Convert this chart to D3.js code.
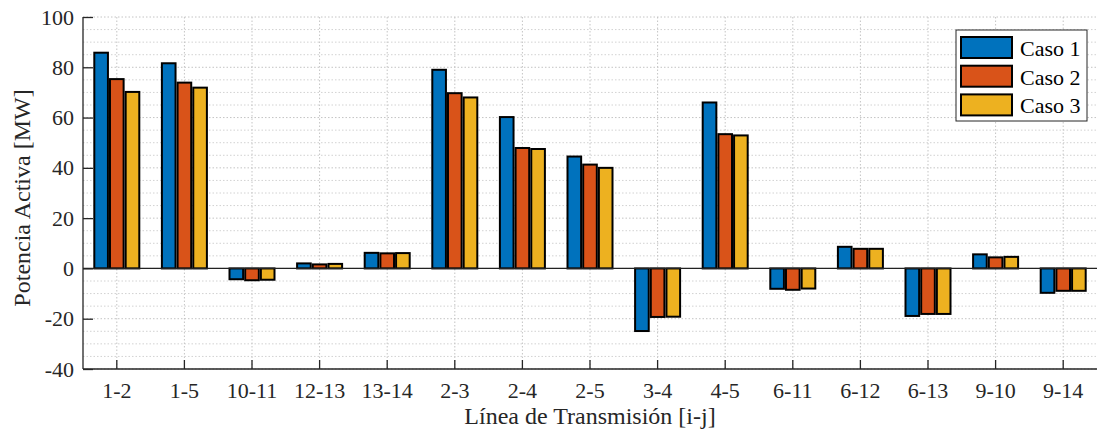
<!DOCTYPE html>
<html>
<head>
<meta charset="utf-8">
<script src="https://d3js.org/d3.v7.min.js"></script>
<style>
  body { margin: 0; background: #fff; }
  svg { display: block; font-family: "Liberation Serif", "Times New Roman", serif; }
</style>
</head>
<body>
<div id="chart"></div>
<script>
// data
var lines = ["1-2", "1-5", "10-11", "12-13", "13-14", "2-3", "2-4", "2-5", "3-4", "4-5", "6-11", "6-12", "6-13", "9-10", "9-14"];
var series = ["Caso 1", "Caso 2", "Caso 3"];
var caso1 = [85.8, 81.6, -4.3, 2.0, 6.2, 79.0, 60.2, 44.5, -24.9, 66.0, -8.1, 8.6, -18.9, 5.6, -9.7];
var caso2 = [75.3, 73.9, -4.7, 1.6, 6.0, 69.7, 47.9, 41.3, -19.3, 53.4, -8.5, 7.8, -18.1, 4.4, -8.9];
var caso3 = [70.2, 71.9, -4.5, 1.8, 6.1, 68.0, 47.5, 40.0, -19.2, 52.9, -8.0, 7.8, -18.1, 4.6, -8.9];
var yTicks = [-40, -20, 0, 20, 40, 60, 80, 100];
var colors = ["#0072BD", "#D95319", "#EDB120"];

var svg_width = 1098, svg_height = 436;
var margin = { top: 17, right: 1, bottom: 67, left: 83 };
var width = svg_width - margin.left - margin.right;
var height = svg_height - margin.top - margin.bottom;

var svg = d3.select("#chart").append("svg")
    .attr("width", svg_width)
    .attr("height", svg_height);
var g = svg.append("g").attr("transform", `translate(${margin.left},${margin.top})`);

var x_scale = d3.scaleBand().domain(lines).range([0, width]).padding(0);
var y_scale = d3.scaleLinear().domain([-40, 100]).range([height, 0]);
var inner = d3.scaleBand().domain(series).range([-22.5, 22.5]).paddingInner(0.13);

function cx(c) { return x_scale(c) + x_scale.bandwidth() / 2; }

// minor grid every 5, major every 20
var minor = d3.range(-40, 101, 5);
g.selectAll(".ygrid").data(minor).enter().append("line")
  .attr("x1", 0).attr("x2", width)
  .attr("y1", d => y_scale(d)).attr("y2", d => y_scale(d))
  .attr("stroke", d => d % 20 === 0 ? "#c4c4c4" : "#d2d2d2")
  .attr("stroke-width", 1)
  .attr("stroke-dasharray", "1.5,2");
g.selectAll(".xgrid").data(lines).enter().append("line")
  .attr("x1", d => cx(d)).attr("x2", d => cx(d))
  .attr("y1", 0).attr("y2", height)
  .attr("stroke", "#c4c4c4")
  .attr("stroke-dasharray", "1.5,2");

// bars
var allData = [caso1, caso2, caso3];
var bars = [];
lines.forEach(function(c, i) {
  series.forEach(function(s, j) {
    bars.push({ line: c, serie: s, idx: j, value: allData[j][i] });
  });
});
g.selectAll(".bar").data(bars).enter().append("rect")
  .attr("x", d => cx(d.line) + inner(d.serie))
  .attr("width", inner.bandwidth())
  .attr("y", d => y_scale(Math.max(0, d.value)))
  .attr("height", d => Math.abs(y_scale(d.value) - y_scale(0)))
  .attr("fill", d => colors[d.idx])
  .attr("stroke", "#000")
  .attr("stroke-width", 2);

// zero baseline
g.append("line")
  .attr("x1", 0).attr("x2", width)
  .attr("y1", y_scale(0)).attr("y2", y_scale(0))
  .attr("stroke", "#222").attr("stroke-width", 1.3);

// axes (inward ticks like matlab)
var y_axis = d3.axisLeft(y_scale).tickValues(yTicks).tickSize(-10).tickPadding(9)
  .tickFormat(d => String(d));
var yg = g.append("g").call(y_axis);
var x_axis = d3.axisBottom(x_scale).tickSize(-9).tickPadding(13);
var xg = g.append("g").attr("transform", `translate(0,${height})`).call(x_axis);
[yg, xg].forEach(function(a) {
  a.select(".domain").attr("stroke", "#262626").attr("stroke-width", 1.3);
  a.selectAll(".tick line").attr("stroke", "#262626").attr("stroke-width", 1.3);
  a.selectAll(".tick text").attr("fill", "#262626").style("font-size", "22px")
    .style("font-family", "Liberation Serif");
});
yg.select(".domain").attr("d", `M0,${height}V0`);
xg.select(".domain").attr("d", `M0,0H${width}`);

// axis titles
svg.append("text")
  .attr("x", margin.left + width / 2).attr("y", 424)
  .attr("text-anchor", "middle")
  .attr("fill", "#262626")
  .style("font-size", "24px")
  .text("Línea de Transmisión [i-j]");
svg.append("text")
  .attr("transform", `translate(30,198) rotate(-90)`)
  .attr("text-anchor", "middle")
  .attr("fill", "#262626")
  .style("font-size", "24px")
  .text("Potencia Activa [MW]");

// legend
var lg = svg.append("g").attr("transform", "translate(956,30)");
lg.append("rect").attr("width", 131).attr("height", 91)
  .attr("fill", "#fff").attr("stroke", "#262626").attr("stroke-width", 1);
series.forEach(function(s, j) {
  var row = lg.append("g").attr("transform", `translate(5,${7 + j * 28.7})`);
  row.append("rect").attr("width", 51).attr("height", 21)
    .attr("fill", colors[j]).attr("stroke", "#000").attr("stroke-width", 2);
  row.append("text").attr("x", 59).attr("y", 19)
    .attr("fill", "#000").style("font-size", "22px").text(s);
});
</script>
</body>
</html>
